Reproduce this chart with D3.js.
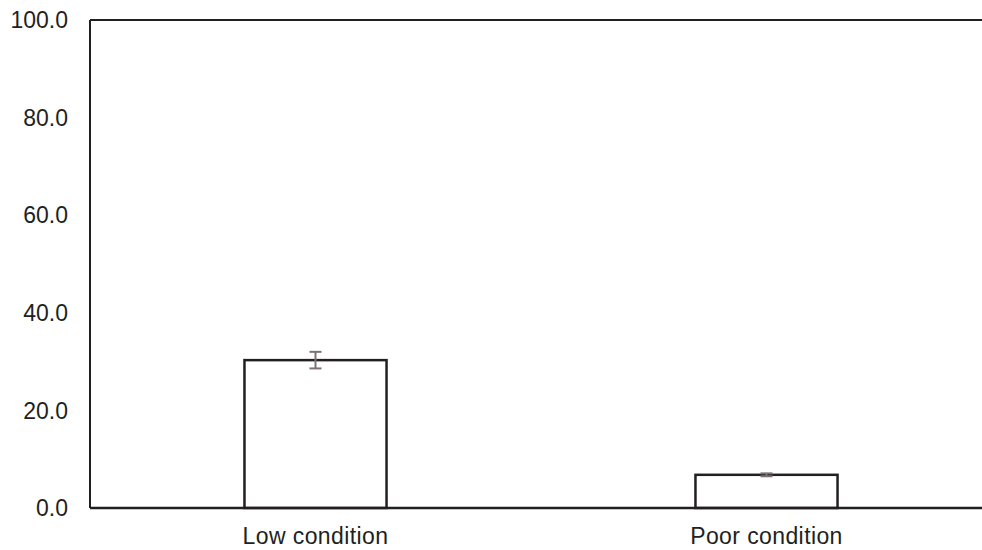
<!DOCTYPE html>
<html>
<head>
<meta charset="utf-8">
<script src="https://cdn.jsdelivr.net/npm/d3@7"></script>
<style>
  body { margin: 0; background: #fff; }
  text { font-family: "Liberation Sans", Arial, sans-serif; }
</style>
</head>
<body>
<div id="chart"></div>
<script>
const categories = ["Low condition", "Poor condition"];
const values = [30.3, 6.8];
const errors = [1.7, 0.3];
const yTicks = [0, 20, 40, 60, 80, 100];

const width = 982, height = 550;
const margin = { top: 20, left: 90, bottom: 42 };
const plotRight = 992; // plot area runs slightly past the window edge

const svg = d3.select("#chart").append("svg")
  .attr("width", width)
  .attr("height", height);

const x = d3.scaleBand()
  .domain(categories)
  .range([margin.left, plotRight])
  .padding(0);

const y = d3.scaleLinear()
  .domain([0, 100])
  .range([height - margin.bottom, margin.top]);

const barW = x.bandwidth() * 0.315;
const ink = "#231f20";

// frame: top line and left axis
svg.append("line")
  .attr("x1", margin.left).attr("x2", plotRight)
  .attr("y1", y(100)).attr("y2", y(100))
  .attr("stroke", ink).attr("stroke-width", 2);

svg.append("line")
  .attr("x1", margin.left).attr("x2", margin.left)
  .attr("y1", y(100)).attr("y2", y(0))
  .attr("stroke", ink).attr("stroke-width", 2);

// y tick labels
svg.selectAll(".ytick")
  .data(yTicks)
  .enter().append("text")
  .attr("class", "ytick")
  .attr("x", 68)
  .attr("y", d => y(d))
  .attr("dy", "0.36em")
  .attr("text-anchor", "end")
  .attr("font-size", 23)
  .attr("fill", "#231f20")
  .text(d => d.toFixed(1));

// bars
svg.selectAll(".bar")
  .data(values)
  .enter().append("rect")
  .attr("class", "bar")
  .attr("x", (d, i) => x(categories[i]) + x.bandwidth() / 2 - barW / 2)
  .attr("y", d => y(d))
  .attr("width", barW)
  .attr("height", d => y(0) - y(d))
  .attr("fill", "#fff")
  .attr("stroke", ink)
  .attr("stroke-width", 2.5);

// bottom axis line drawn over bars
svg.append("line")
  .attr("x1", margin.left).attr("x2", plotRight)
  .attr("y1", y(0)).attr("y2", y(0))
  .attr("stroke", ink).attr("stroke-width", 2.5);

// error bars
const errColor = "#7d7078";
const capW = 12;
const eb = svg.selectAll(".err")
  .data(values)
  .enter().append("g")
  .attr("class", "err")
  .attr("transform", (d, i) => `translate(${x(categories[i]) + x.bandwidth() / 2},0)`);

eb.append("line")
  .attr("y1", (d, i) => y(d + errors[i]))
  .attr("y2", (d, i) => y(d - errors[i]))
  .attr("stroke", errColor).attr("stroke-width", 2);

eb.append("line")
  .attr("x1", -capW / 2).attr("x2", capW / 2)
  .attr("y1", (d, i) => y(d + errors[i]))
  .attr("y2", (d, i) => y(d + errors[i]))
  .attr("stroke", errColor).attr("stroke-width", 2);

eb.append("line")
  .attr("x1", -capW / 2).attr("x2", capW / 2)
  .attr("y1", (d, i) => y(d - errors[i]))
  .attr("y2", (d, i) => y(d - errors[i]))
  .attr("stroke", errColor).attr("stroke-width", 2);

// category labels
svg.selectAll(".xlabel")
  .data(categories)
  .enter().append("text")
  .attr("class", "xlabel")
  .attr("x", d => x(d) + x.bandwidth() / 2)
  .attr("y", 544)
  .attr("text-anchor", "middle")
  .attr("font-size", 23)
  .attr("letter-spacing", 0.4)
  .attr("fill", "#231f20")
  .text(d => d);
</script>
</body>
</html>
